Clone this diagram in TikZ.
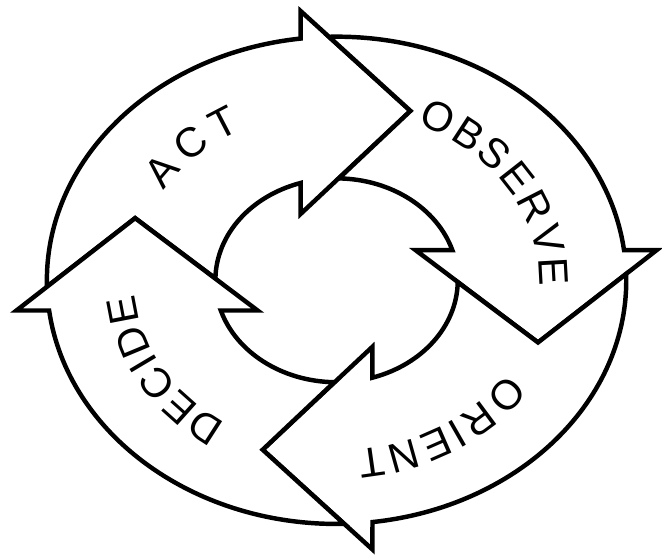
\documentclass[tikz,border=0pt]{standalone}
\usepackage{fontspec}
\setmainfont{Liberation Sans}
\usetikzlibrary{decorations.text}
\newcommand{\Rout}{3.43}
\newcommand{\Rin}{1.435}
\newcommand{\lblfont}{\fontsize{14}{16}\selectfont}

\begin{document}
\begin{tikzpicture}[
    piece/.style={draw=black, line width=1.5pt, fill=white, line join=miter},
    lbl/.style={decorate, decoration={text along path, text align=fit to path, text={|\lblfont|#1}}}]
\useasboundingbox (-3.985,-3.276) rectangle (3.853,3.319);
\begin{scope}[yscale=0.841]
% one arrow per quarter turn, head sits in the tail of the next one
\foreach \ang in {0,-90,-180,-270}
  \draw[piece, rotate=\ang] (181.5:\Rout) arc[start angle=181.5, end angle=97.12, radius=\Rout]
      -- (-0.425,3.79) -- (0.875,2.385) -- (-0.425,0.935) -- (107.22:\Rin)
      arc[start angle=107.22, end angle=178.9, radius=\Rin] -- (-2.385,0.875) -- cycle;
% labels along the ring
\path[lbl=ACT] (148.5:2.4) arc[start angle=148.5, end angle=118, radius=2.4];
\path[lbl=OBSERVE] (66.5:2.4) arc[start angle=66.5, end angle=-2, radius=2.4];
\path[lbl=ORIENT] (-33:2.4) arc[start angle=-33, end angle=-84, radius=2.4];
\path[lbl=DECIDE] (237:2.4) arc[start angle=237, end angle=184.5, radius=2.4];
\end{scope}
\end{tikzpicture}
\end{document}
